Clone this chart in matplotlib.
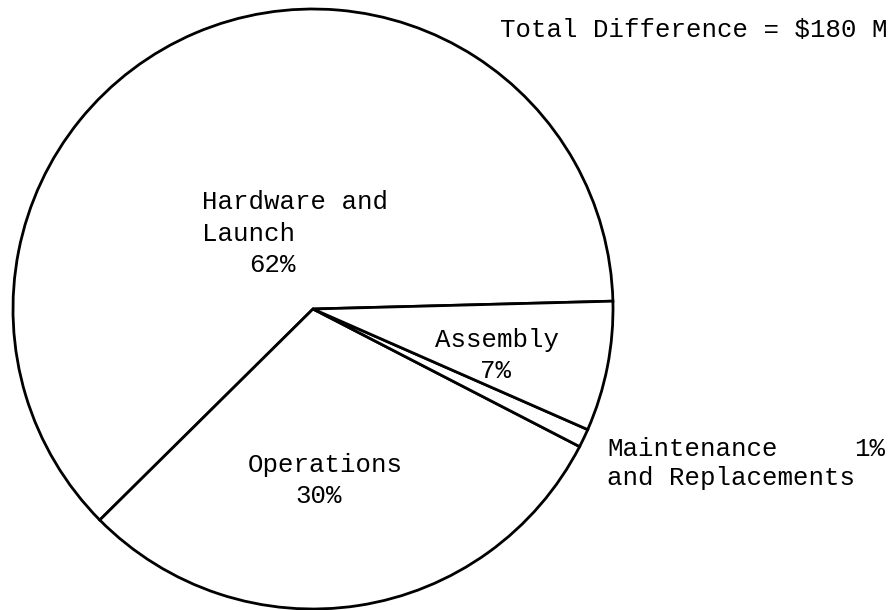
import matplotlib.pyplot as plt

# cost difference breakdown, percent of total
categories = ['Hardware and Launch', 'Operations', 'Maintenance and Replacements', 'Assembly']
shares = [62, 30, 1, 7]
total_diff = 180  # $M

W, H = 895, 610

fig = plt.figure(figsize=(W / 100, H / 100), dpi=100)
ax = fig.add_axes([0, 0, 1, 1])

ax.pie(shares, startangle=1.5, counterclock=True, center=(313, H - 309), radius=300,
       colors=['white'] * len(shares),
       wedgeprops=dict(edgecolor='black', linewidth=2.0))

# pie() resets the limits, so set the pixel-sized frame afterwards
ax.set_xlim(0, W)
ax.set_ylim(0, H)
ax.set_aspect('auto')
ax.axis('off')

font = dict(family='Liberation Mono', fontsize=18.5, color='black', va='baseline')

# px -> data y
def y(p):
    return H - p

ax.text(500, y(37), 'Total Difference = $%d M' % total_diff, ha='left', **font)

# Hardware and Launch
ax.text(202, y(209), 'Hardware and', ha='left', **font)
ax.text(202, y(241), 'Launch', ha='left', **font)
ax.text(249, y(272), '%d%%' % shares[0], ha='left', **font)

# Assembly
ax.text(497, y(347), 'Assembly', ha='center', **font)
ax.text(496, y(378), '%d%%' % shares[3], ha='center', **font)

# Operations
ax.text(248, y(472), 'Operations', ha='left', **font)
ax.text(295, y(503), '%d%%' % shares[1], ha='left', **font)

# Maintenance and Replacements (outside the pie)
ax.text(607, y(456), 'Maintenance', ha='left', **font)
ax.text(885, y(456), '%d%%' % shares[2], ha='right', **font)
ax.text(607, y(485), 'and Replacements', ha='left', **font)

fig.savefig('out.png', dpi=100, facecolor='white')
